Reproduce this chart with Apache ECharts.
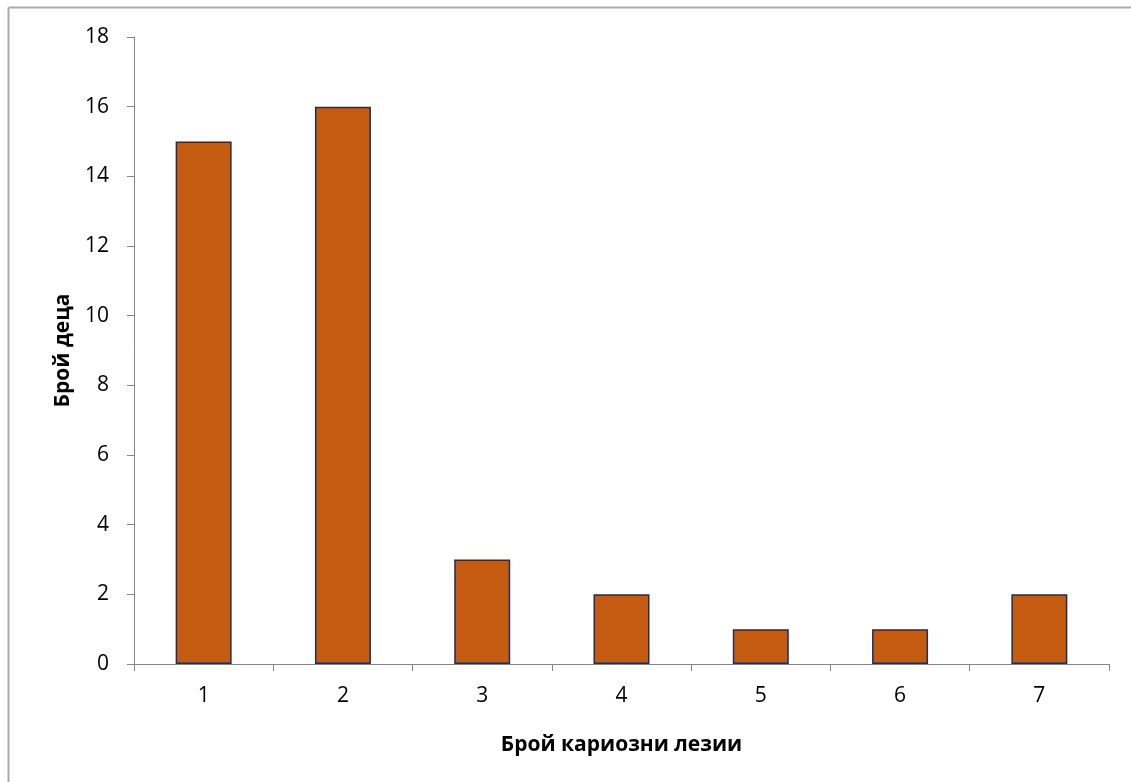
<!DOCTYPE html>
<html><head><meta charset="utf-8">
<script src="https://cdn.jsdelivr.net/npm/echarts@6/dist/echarts.min.js"></script>
<style>html,body{margin:0;padding:0;background:#fff}#c{width:1131px;height:782px}</style>
</head><body><div id="c"></div>
<script>
const categories = ['1','2','3','4','5','6','7'];
const values = [15, 16, 3, 2, 1, 1, 2];
const xTitle = 'Брой кариозни лезии';
const yTitle = 'Брой деца';
const FONT = '"Open Sans","Noto Sans",sans-serif';
const chart = echarts.init(document.getElementById('c'), null, {renderer:'canvas'});
chart.setOption({
  animation:false,
  backgroundColor:'#fff',
  graphic:[
    {type:'line', shape:{x1:8.5,y1:7.5,x2:1131,y2:7.5}, style:{stroke:'#ABABAB',lineWidth:2}},
    {type:'line', shape:{x1:8.5,y1:7.5,x2:8.5,y2:782}, style:{stroke:'#ABABAB',lineWidth:2}}
  ],
  grid:{left:134, right:22, top:37, bottom:118, containLabel:false},
  xAxis:{
    type:'category', data:categories,
    name:xTitle, nameLocation:'middle', nameGap:71,
    nameTextStyle:{fontFamily:FONT, fontSize:21, fontWeight:'bold', color:'#000'},
    axisLine:{lineStyle:{color:'#868686', width:1}},
    axisTick:{show:true, alignWithLabel:false, length:7, lineStyle:{color:'#868686'}},
    axisLabel:{fontFamily:FONT, fontSize:21, color:'#000', margin:22}
  },
  yAxis:{
    type:'value', min:0, max:18, interval:2,
    name:yTitle, nameLocation:'middle', nameGap:60, nameRotate:90,
    nameTextStyle:{fontFamily:FONT, fontSize:21, fontWeight:'bold', color:'#000'},
    axisLine:{show:true, lineStyle:{color:'#868686', width:1}},
    axisTick:{show:true, length:7, lineStyle:{color:'#868686'}},
    axisLabel:{fontFamily:FONT, fontSize:21, color:'#000', margin:25},
    splitLine:{show:false}
  },
  series:[{
    type:'bar', data:values, barWidth:56,
    itemStyle:{color:'#C55A11', borderColor:'#1F2D5C', borderWidth:1.5}
  }]
});
</script></body></html>
